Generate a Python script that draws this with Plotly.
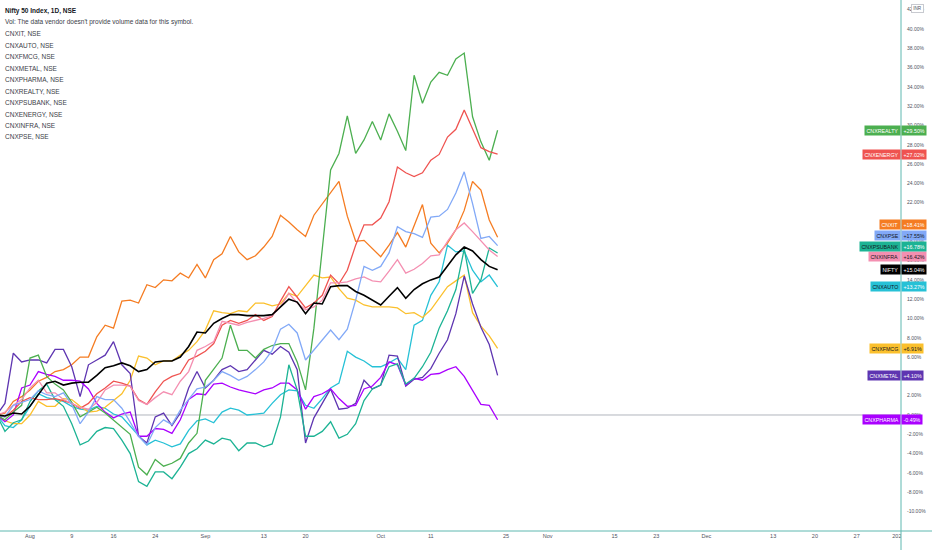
import plotly.graph_objects as go

# ---------------- data ----------------
# trading days from 2021-07-27 to 2021-10-22 (bar index 0..60)
n_bars = 61
bars = list(range(n_bars))

nifty = [0, -0.1, 0.2, 0.1, 0.9, 2.1, 3.3, 3.5, 3.1, 3.3, 3.4, 3.4, 4.1, 4.9, 5.1, 5.4, 5.1, 4.5, 4.7, 5.5,
         5.6, 5.6, 6.0, 7.1, 8.6, 8.5, 9.5, 10.0, 10.4, 10.4, 10.3, 10.3, 10.3, 10.4, 11.2, 12.0, 11.7, 10.5, 11.6, 11.5,
         13.3, 13.4, 13.4, 12.8, 12.4, 11.9, 11.4, 12.3, 13.2, 12.1, 13.0, 13.6, 14.0, 14.3, 15.5, 16.6, 17.4, 17.0, 16.1, 15.4,
         15.04]
cnxit = [0, 0.2, 1.4, 1.9, 2.6, 3.5, 3.9, 4.5, 4.7, 5.2, 6.0, 6.0, 8.1, 9.3, 9.0, 11.8, 11.9, 11.6, 13.5, 13.2,
         14.0, 13.9, 14.7, 14.2, 15.6, 14.2, 16.1, 16.7, 18.5, 16.9, 16.1, 16.5, 17.4, 18.5, 20.7, 20.0, 19.2, 18.5, 20.7, 21.9,
         23.0, 24.2, 20.6, 18.0, 18.1, 17.3, 16.4, 17.6, 18.9, 17.4, 19.5, 21.8, 17.8, 16.8, 17.8, 19.2, 21.2, 24.2, 23.3, 20.2,
         18.41]
cnxauto = [0, -1.1, -1.3, -0.5, 0.9, 2.2, 1.8, 1.6, 1.4, 0.9, 0.6, 0.5, 0.9, 0.7, 0.1, -0.2, -1.2, -2.2, -3.1, -2.6,
           -2.9, -3.3, -3.0, -1.6, -0.6, -0.4, -0.8, 0.3, 0.7, 0.5, 0.0, 0.1, 0.2, 1.2, 2.1, 2.6, 2.5, 1.0, 0.7, 1.7,
           2.8, 3.3, 6.6, 6.0, 5.6, 5.0, 5.0, 5.4, 5.9, 4.7, 9.3, 9.8, 12.4, 13.8, 17.6, 16.9, 17.0, 15.0, 13.8, 14.5,
           13.27]
cnxfmcg = [0, -0.6, -0.9, -0.9, 0.0, 1.4, 0.9, 0.9, 1.7, 1.6, 0.9, 0.3, 0.4, 0.8, 1.5, 2.2, 3.6, 6.1, 5.9, 5.2,
           5.6, 5.6, 6.2, 6.7, 7.6, 8.8, 10.8, 10.6, 10.5, 10.8, 10.7, 11.6, 11.6, 11.3, 11.5, 12.6, 12.3, 13.4, 14.5, 14.2,
           14.3, 13.1, 12.1, 11.9, 11.4, 11.2, 11.2, 11.2, 11.1, 10.5, 10.6, 10.1, 10.9, 12.1, 13.3, 13.9, 14.5, 10.6, 9.2, 8.2,
           6.91]
cnxmetal = [0, 1.2, 6.4, 5.5, 5.7, 5.7, 5.4, 6.8, 6.8, 5.0, 1.9, 5.2, 5.7, 6.2, 7.6, 5.2, 4.3, -2.2, -2.9, -0.2,
            0.2, -1.1, 0.2, 2.8, 4.5, 2.8, 3.6, 4.7, 5.1, 4.5, 4.7, 5.7, 6.7, 6.3, 7.1, 6.5, 4.7, -2.9, -0.3, 1.2,
            2.7, 0.6, 0.7, 1.2, 3.6, 2.7, 3.1, 6.2, 6.1, 3.0, 3.7, 3.9, 4.8, 6.4, 7.8, 10.5, 14.4, 11.5, 9.1, 7.3,
            4.10]
cnxpharma = [0, -0.7, 0.0, 2.8, 3.1, 4.5, 4.2, 4.0, 3.6, 3.6, 3.5, 2.7, 1.2, 0.3, -0.3, 0.1, 0.3, -2.2, -2.2, -1.4,
             -1.5, -1.9, -0.5, 1.6, 2.2, 2.1, 3.2, 3.3, 2.9, 2.6, 2.4, 2.2, 2.6, 2.8, 3.3, 3.3, 2.6, 0.6, 1.9, 2.2,
             2.7, 1.7, 0.9, 1.0, 2.7, 3.0, 3.9, 5.5, 5.2, 3.1, 3.8, 3.6, 4.2, 4.3, 4.7, 5.0, 4.0, 2.6, 1.1, 1.0,
             -0.49]
cnxrealty = [0, -0.5, 0.3, 1.0, 5.9, 6.2, 4.0, 3.2, 2.6, 1.3, -0.2, 0.3, 0.8, 0.2, -0.5, -1.3, -2.0, -5.4, -6.2, -4.6,
             -5.3, -5.0, -4.5, -2.9, -1.9, 3.6, 4.7, 5.9, 9.3, 6.7, 6.7, 5.9, 6.8, 7.2, 7.4, 7.4, 5.5, 2.6, 9.0, 17.5,
             25.4, 27.1, 31.0, 27.1, 28.5, 30.4, 28.5, 31.2, 29.4, 27.4, 35.2, 32.3, 34.5, 35.5, 35.2, 36.9, 37.5, 30.9, 28.3, 26.4,
             29.50]
cnxpsubank = [0, -1.7, -0.8, -0.5, 1.4, 2.5, 3.2, 1.6, 0.9, -0.9, -3.1, -2.7, -1.7, -1.3, -1.4, -2.6, -4.0, -6.9, -7.4, -5.9,
              -5.9, -6.6, -5.4, -4.0, -3.5, -2.6, -3.0, -2.4, -2.6, -3.7, -2.9, -2.9, -3.3, -3.0, -0.2, 5.2, 2.6, -2.2, -2.2, -1.7,
              -0.7, -2.4, -2.0, -0.9, 1.5, 2.7, 3.1, 5.0, 5.3, 3.2, 3.8, 5.0, 6.5, 9.0, 10.8, 13.0, 17.2, 12.6, 14.0, 17.3,
              16.78]
cnxenergy = [0, -0.2, 0.5, 1.4, 1.8, 1.6, 1.6, 1.7, 1.5, 1.2, 0.7, 1.2, 2.2, 2.8, 3.5, 3.3, 3.0, 1.6, 1.1, 2.4,
             3.5, 4.0, 4.3, 5.7, 6.1, 6.6, 7.4, 9.3, 9.8, 9.5, 9.8, 10.4, 9.8, 10.2, 11.8, 13.3, 12.2, 11.1, 11.6, 12.4,
             14.5, 13.6, 15.0, 17.6, 19.7, 19.7, 20.4, 22.1, 25.7, 25.1, 24.7, 25.1, 26.4, 27.0, 28.8, 29.6, 31.6, 29.7, 27.7, 27.3,
             27.02]
cnxinfra = [0, 0.3, 1.0, 1.6, 2.8, 3.6, 2.3, 2.3, 1.6, 1.2, 0.8, 0.6, 1.3, 2.6, 3.1, 3.1, 3.0, 1.5, 1.1, 1.8,
            2.4, 2.1, 3.5, 4.5, 6.7, 7.1, 7.6, 9.7, 9.5, 9.3, 9.6, 9.8, 10.0, 10.3, 11.2, 12.6, 11.6, 10.9, 11.2, 11.9,
            13.7, 13.7, 13.8, 14.1, 14.3, 13.9, 13.8, 14.9, 16.1, 14.7, 15.1, 15.7, 16.5, 16.6, 18.0, 19.2, 19.9, 19.0, 18.0, 17.1,
            16.42]
cnxpse = [0, -0.2, 1.0, 1.3, 1.6, 2.5, 2.1, 1.9, 2.3, 1.1, -0.9, 0.3, 1.9, 1.6, 1.6, 0.7, -0.7, -2.2, -3.1, -1.3,
          -0.5, -1.0, 0.5, 1.6, 2.7, 2.9, 3.6, 4.5, 4.1, 3.6, 4.0, 4.7, 5.5, 6.7, 8.9, 9.4, 8.5, 5.7, 6.7, 7.8,
          8.8, 7.8, 8.9, 11.9, 15.4, 15.0, 15.4, 16.8, 19.5, 19.0, 18.8, 18.4, 20.5, 20.6, 21.3, 23.0, 25.2, 21.9, 18.3, 18.5,
          17.55]

# x-axis ticks (bar index on the trading-day scale) and their labels
tick_bars = [4, 9, 14, 19, 25, 32, 37, 46, 52, 61, 66, 74, 79, 85, 93, 98, 103, 108]
tick_text = ["Aug", "9", "16", "24", "Sep", "13", "20", "Oct", "11", "25", "Nov", "15", "23", "Dec", "13", "20", "27", "2022"]

# y-axis ticks (percent)
y_ticks = list(range(-10, 44, 2))
y_tick_text = [f"{v:.2f}%" for v in y_ticks]

legend_lines = ["Nifty 50 Index, 1D, NSE",
                "Vol: The data vendor doesn't provide volume data for this symbol.",
                "CNXIT, NSE", "CNXAUTO, NSE", "CNXFMCG, NSE", "CNXMETAL, NSE", "CNXPHARMA, NSE",
                "CNXREALTY, NSE", "CNXPSUBANK, NSE", "CNXENERGY, NSE", "CNXINFRA, NSE", "CNXPSE, NSE"]

# name, values, line colour, tag text colour (name box), tag text colour (value box)
series = [
    ("CNXIT", cnxit, "#f57c22", "#ffffff", "#ffffff"),
    ("CNXAUTO", cnxauto, "#26c1d6", "#131722", "#ffffff"),
    ("CNXFMCG", cnxfmcg, "#fbc02d", "#131722", "#131722"),
    ("CNXMETAL", cnxmetal, "#5e35b1", "#ffffff", "#ffffff"),
    ("CNXPHARMA", cnxpharma, "#aa00ff", "#ffffff", "#ffffff"),
    ("CNXREALTY", cnxrealty, "#4caf50", "#ffffff", "#ffffff"),
    ("CNXPSUBANK", cnxpsubank, "#1cb394", "#131722", "#ffffff"),
    ("CNXENERGY", cnxenergy, "#ef5350", "#ffffff", "#ffffff"),
    ("CNXINFRA", cnxinfra, "#f48fb1", "#131722", "#131722"),
    ("CNXPSE", cnxpse, "#82a9f7", "#131722", "#131722"),
    ("NIFTY", nifty, "#000000", "#ffffff", "#ffffff"),
]

# ---------------- figure ----------------
W, H = 932, 550
ML, MR, MT, MB = 0, 31, 0, 19
PW, PH = W - ML - MR, H - MT - MB
FONT = "Liberation Sans, Arial, sans-serif"
AXIS_COLOR = "#5fb8b0"

fig = go.Figure()
for name, vals, col, _, _ in series:
    fig.add_trace(go.Scatter(x=bars, y=vals, mode="lines", name=name,
                             line=dict(color=col, width=1.6 if name == "NIFTY" else 1.3),
                             hoverinfo="skip"))

ymin, ymax = -12.02, 43.0
shapes = [
    dict(type="line", xref="paper", yref="y", x0=0, x1=1, y0=0, y1=0,
         line=dict(color="#b2b5be", width=1), layer="below"),
    dict(type="rect", xref="paper", yref="paper", x0=1, x1=W / PW, y0=-MB / PH, y1=0,
         fillcolor="white", line=dict(width=0), layer="above"),
    dict(type="line", xref="paper", yref="paper", x0=0, x1=W / PW, y0=0, y1=0,
         line=dict(color=AXIS_COLOR, width=1), layer="above"),
    dict(type="line", xref="paper", yref="paper", x0=1, x1=1, y0=-MB / PH, y1=1,
         line=dict(color=AXIS_COLOR, width=1), layer="above"),
]

annotations = []
# top-left legend text
for i, txt in enumerate(legend_lines):
    py = 11 + i * 11.45
    annotations.append(dict(xref="paper", yref="paper", x=3 / PW, y=1 - py / PH,
                            xanchor="left", yanchor="middle", showarrow=False,
                            text=f"<b>{txt}</b>" if i == 0 else txt,
                            font=dict(family=FONT, size=6.5, color="#131722" if i == 0 else "#3b3e47")))

# price-scale tags, stacked upward to avoid overlaps
spacing = 1.09
last = sorted([(s[1][-1], s) for s in series], key=lambda t: t[0])
placed = []
prev = None
for v, s in last:
    y = v if prev is None else max(v, prev + spacing)
    placed.append((y, v, s))
    prev = y
for y, v, (name, vals, col, tcol, vcol) in placed:
    common = dict(xref="paper", yref="y", x=1, y=y, yanchor="middle", showarrow=False,
                  bgcolor=col, borderpad=1.5)
    annotations.append(dict(common, text=name, xanchor="right",
                            font=dict(family=FONT, size=5.3, color=tcol)))
    annotations.append(dict(common, text=f"{v:+.2f}%", xanchor="left",
                            font=dict(family=FONT, size=5.3, color=vcol)))

annotations.append(dict(xref="paper", yref="paper", x=917 / PW, y=1 - 9 / PH, showarrow=False,
                        xanchor="center", yanchor="middle",
                        text="INR", font=dict(family=FONT, size=4.6, color="#50535e"),
                        bgcolor="white", bordercolor="#c8cad0", borderwidth=1, borderpad=1.2))

fig.update_layout(
    width=W, height=H, margin=dict(l=ML, r=MR, t=MT, b=MB, autoexpand=False),
    paper_bgcolor="white", plot_bgcolor="white", showlegend=False,
    font=dict(family=FONT),
    xaxis=dict(range=[0.407, 108.31], tickmode="array", tickvals=tick_bars, ticktext=tick_text,
               showgrid=False, zeroline=False, showline=False, ticks="", automargin=False,
               tickfont=dict(family=FONT, size=5.5, color="#50535e")),
    yaxis=dict(side="right", range=[ymin, ymax], tickmode="array", tickvals=y_ticks, ticktext=y_tick_text,
               showgrid=False, zeroline=False, showline=False, ticks="", ticklabelstandoff=5, automargin=False,
               tickfont=dict(family=FONT, size=5, color="#50535e")),
    shapes=shapes, annotations=annotations,
)

fig.write_html("out.html", config={"displayModeBar": False},
               post_script="document.body.style.margin='0';document.body.style.padding='0';")
